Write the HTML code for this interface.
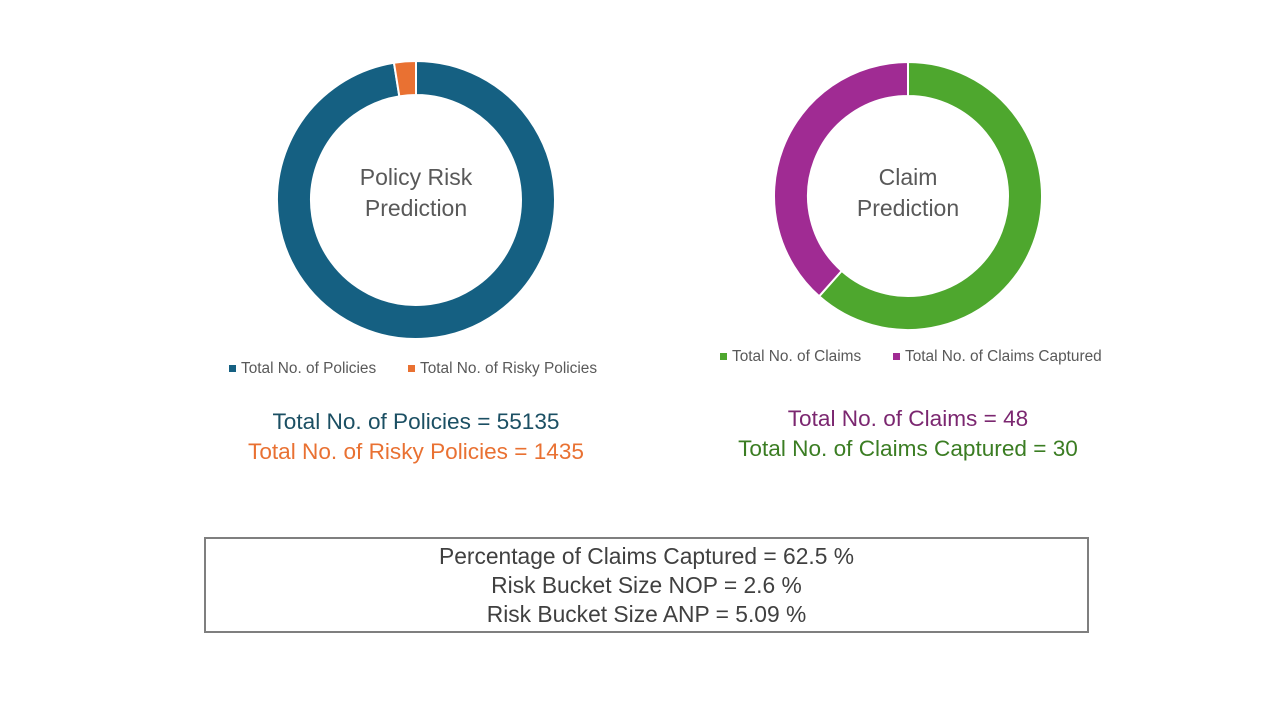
<!DOCTYPE html>
<html><head><meta charset="utf-8"><style>
body{margin:0;width:1280px;height:720px;background:#fff;font-family:"Liberation Sans",sans-serif;position:relative;overflow:hidden}
.t{position:absolute;white-space:nowrap;text-align:center}
.leg{position:absolute;font-size:15.4px;color:#595959;white-space:nowrap}
.sw{display:inline-block;width:7px;height:7px;margin-right:5px;vertical-align:1px}
</style></head><body>
<svg id="c" width="1280" height="720" style="position:absolute;left:0;top:0"></svg>
<div class="t" style="left:316px;width:200px;top:162px;font-size:23px;color:#595959;line-height:31px">Policy Risk<br>Prediction</div>
<div class="t" style="left:808px;width:200px;top:162px;font-size:23px;color:#595959;line-height:31px">Claim<br>Prediction</div>
<div class="leg" style="left:229px;top:360px"><span class="sw" style="background:#156082"></span>Total No. of Policies</div>
<div class="leg" style="left:408px;top:360px"><span class="sw" style="background:#E97132"></span>Total No. of Risky Policies</div>
<div class="leg" style="left:720px;top:348px"><span class="sw" style="background:#4EA72E"></span>Total No. of Claims</div>
<div class="leg" style="left:893px;top:348px"><span class="sw" style="background:#A02B93"></span>Total No. of Claims Captured</div>
<div class="t" style="left:216px;width:400px;top:409px;font-size:22.6px;color:#1B4F63">Total No. of Policies = 55135</div>
<div class="t" style="left:216px;width:400px;top:439px;font-size:22.6px;color:#E97132">Total No. of Risky Policies = 1435</div>
<div class="t" style="left:688px;width:440px;top:406px;font-size:22.6px;color:#7B2770">Total No. of Claims = 48</div>
<div class="t" style="left:688px;width:440px;top:436px;font-size:22.6px;color:#3B7D23">Total No. of Claims Captured = 30</div>
<div style="position:absolute;left:204px;top:537px;width:885px;height:96px;border:2px solid #7f7f7f;text-align:center;font-size:22.8px;color:#404040;line-height:29px;padding-top:3px;box-sizing:border-box">Percentage of Claims Captured = 62.5 %<br>Risk Bucket Size NOP = 2.6 %<br>Risk Bucket Size ANP = 5.09 %</div>
<script>
const policyLabels=["Total No. of Policies","Total No. of Risky Policies"];
const policyValues=[55135,1435];
const claimLabels=["Total No. of Claims","Total No. of Claims Captured"];
const claimValues=[48,30];
const svg=document.getElementById('c');
function pt(cx,cy,r,a){return [cx+r*Math.sin(a),cy-r*Math.cos(a)];}
function donut(cx,cy,ro,ri,vals,cols,name){
  const tot=vals.reduce((a,b)=>a+b,0);let a0=0;
  vals.forEach((v,i)=>{
    const a1=a0+v/tot*2*Math.PI;const lg=(a1-a0)>Math.PI?1:0;
    const p1=pt(cx,cy,ro,a0),p2=pt(cx,cy,ro,a1),p3=pt(cx,cy,ri,a1),p4=pt(cx,cy,ri,a0);
    const p=document.createElementNS('http://www.w3.org/2000/svg','path');
    p.setAttribute('d',`M${p1}A${ro},${ro} 0 ${lg} 1 ${p2}L${p3}A${ri},${ri} 0 ${lg} 0 ${p4}Z`);
    p.setAttribute('fill',cols[i]);p.setAttribute('stroke','#fff');p.setAttribute('stroke-width','2');
    
    
    svg.appendChild(p);a0=a1;});
}
donut(416,200,139,105,policyValues,['#156082','#E97132'],'policy');
donut(908,196,134,100,claimValues,['#4EA72E','#A02B93'],'claim');
</script>
</body></html>
